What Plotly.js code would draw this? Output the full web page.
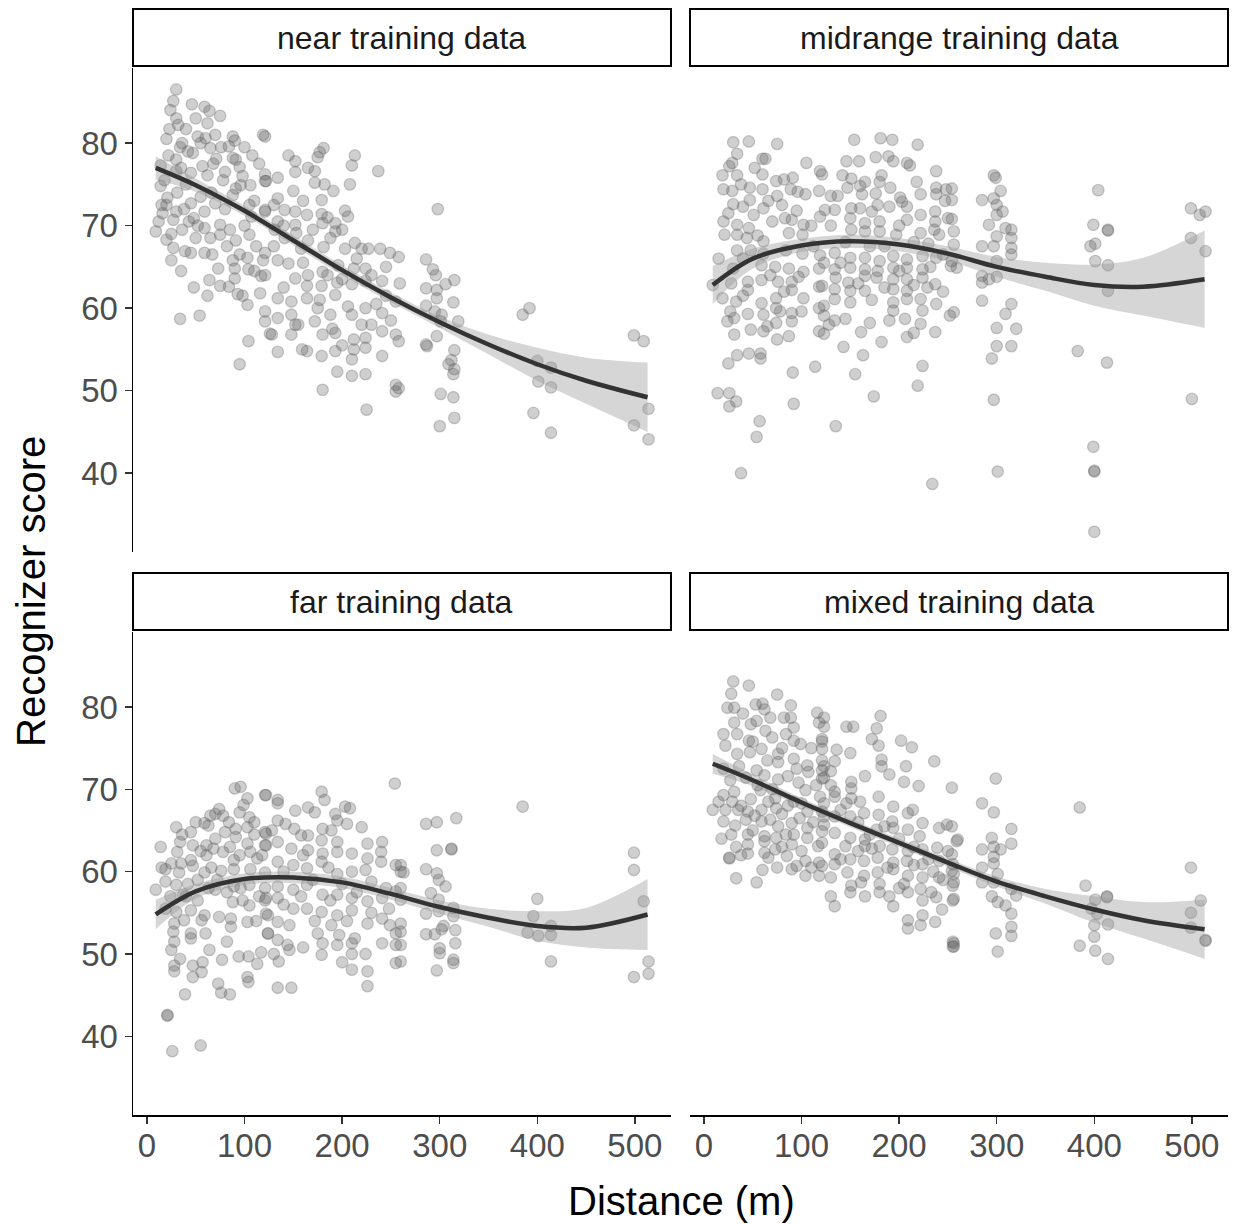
<!DOCTYPE html>
<html>
<head>
<meta charset="utf-8">
<script src="https://cdn.plot.ly/plotly-3.0.1.min.js"></script>
<style>html,body{margin:0;padding:0;background:#fff;}#chart{width:1235px;height:1224px;}</style>
</head>
<body>
<div id="chart"></div>
<script>
// ---------------- DATA ----------------
const panelTitles = ["near training data", "midrange training data", "far training data", "mixed training data"];
const xTickVals = [0, 100, 200, 300, 400, 500];
const yTickVals = [40, 50, 60, 70, 80];

// [distance (m), recognizer score]
const nearPoints = [
[30,86.5],[27,85.1],[24,84],[46,84.7],[59,84.4],[64,83.9],[75,83.3],[30,83],[32,82.2],[23,81.7],[62,82.4],[40,81.7],[119,81],[20,80.5],[52,80.8],[60,80.6],[88,80.8],[90,80.3],[34,79.5],[47,78.8],[65,79.4],[76,79.5],[84,79.6],[30,78],[71,78.1],[88,78.2],[91,78],[95,77.1],[57,77.2],[14,77.3],[30,76.6],[45,76.4],[62,76.1],[78,75.5],[121,75.4],[121,76.2],[14,74.8],[21,73.4],[31,74],[88,73.7],[96,74.9],[106,74.9],[91,74.5],[70,72.7],[59,71.7],[105,72.5],[45,72.7],[30,71.7],[121,71.7],[9,69.3],[27,70.7],[43,70.5],[48,70.9],[59,69.7],[75,70.1],[75,68.9],[91,68.2],[105,68.9],[107,71.1],[20,68.3],[27,67.3],[39,66.9],[45,66.7],[59,66.7],[67,66.5],[25,65.8],[88,65.8],[103,66.1],[119,65.8],[73,64.8],[90,64.8],[104,64.7],[90,63.6],[64,63.4],[117,63.9],[75,62.7],[84,62.6],[62,61.5],[93,61.7],[98,61.5],[116,61.8],[103,60.4],[34,58.7],[54,59.1],[121,58.4],[126,56.9],[104,56],[95,53.2],
[12,70.5],[16,71.5],[20,72.5],[36,69.5],[50,68.5],[55,73.5],[40,75],[66,74],[80,72],[85,69.5],[100,70],[112,67.5],[110,73],[115,77.5],[100,79.5],[70,81],[50,83],[36,80],[18,75.5],
[22,78.5],[35,77],[42,79],[55,80],[68,77.5],[80,76.5],[98,76],[108,78.5],[15,72.5],[25,69],[38,72],[52,70],[65,68.5],[82,67.5],[95,66.5],[110,64.5],[35,64.5],[48,62.5],[130,72.5],[140,70],[160,73],[170,69.5],[185,71],[200,69.5],[215,66],[230,64],[245,61.5],[160,65.5],[175,60],[190,57.5],[200,63.5],[235,60.5],[250,58.5],[140,62.5],[155,58],[185,64],[130,67.5],[200,55.5],[220,58],[245,65],
[121,80.8],[145,78.5],[152,77.8],[181,79.4],[177,78.9],[175,78.3],[213,78.5],[210,77.3],[237,76.6],[165,77],[172,76.6],[152,76.5],[134,75.8],[122,75.4],[172,75.2],[182,75],[191,74.2],[208,75],[150,74.2],[134,73.3],[179,73.1],[121,71.9],[141,71.9],[152,71.7],[164,71.3],[179,71.4],[203,71.8],[206,71.1],[134,70.5],[152,70.1],[180,70.3],[193,70.3],[131,69.5],[141,68.5],[153,69.1],[165,68.2],[188,68.5],[193,69.3],[213,67.9],[227,67.2],[239,67.2],[249,66.7],[121,66.7],[134,65.8],[145,65.4],[158,67.2],[181,67.4],[203,67.2],[220,67.2],[196,65.2],[212,64.8],[224,64.8],[165,64],[180,64.4],[121,64],[152,63.6],[164,62.7],[179,62.7],[195,63.1],[210,62.9],[224,63.3],[241,63.3],[259,63],[134,61.2],[148,60.8],[164,61.2],[177,61],[193,61.6],[206,60.2],[224,60],[241,59.4],[255,60.8],[121,59.6],[148,59.2],[188,59.2],[210,59.2],[134,58.8],[152,58],[172,58.4],[230,58],[241,57.2],[255,56.8],[128,56.8],[148,56.8],[180,56.8],[193,57],[212,56.2],[224,56.4],[159,55],[164,54.8],[193,54.8],[212,55],[224,55.2],[241,54.2],[134,54.7],[179,54.2],[210,53.8],[195,52.3],[210,51.8],[224,52],[180,50.1],[255,50.7],[255,49.9],[225,47.7],
[298,72],[286,65.9],[293,64.7],[296,64],[306,62.9],[315,63.4],[286,62.4],[297,62.2],[297,61.2],[286,60.3],[314,60.7],[295,59.6],[302,59.2],[319,58.4],[301,58.4],[297,56.6],[286,55.6],[287,55.4],[315,54.9],[312,53.7],[309,53.2],[315,52.6],[314,52],[301,49.6],[314,49.2],[315,46.7],[300,45.7],[392,60],[385,59.2],[400,53.6],[414,52.8],[401,51.1],[414,50.4],[396,47.3],[414,44.9],[499,56.7],[509,56],[514,47.8],[499,45.8],[514,44.1],[258,66.2],[258,56],[258,50.3]
];

const midPoints = [
[30,80.1],[46,80.2],[75,79.9],[34,78.7],[29,77.6],[26,77.2],[60,78.1],[63,78.1],[105,77.6],[119,76.6],[19,76.1],[34,76.1],[60,76.2],[74,75.4],[82,75.6],[91,75.8],[20,74.4],[29,74.2],[47,74.6],[60,74.4],[75,73.6],[89,74.4],[96,74.1],[104,73.8],[118,74.2],[30,72.6],[40,72.3],[47,73.1],[61,72.1],[51,71.3],[70,70.5],[83,70.9],[90,70.7],[102,70.1],[119,71.1],[20,70.5],[34,70.1],[46,69.7],[21,68.9],[34,68.9],[44,68.5],[61,68.1],[87,69.1],[101,68.9],[34,67],[48,67],[61,66.6],[84,67],[101,66.6],[119,66.4],[30,64.8],[59,65.2],[73,65],[87,64.8],[102,64.4],[118,64.8],[9,62.8],[45,63.2],[59,63.4],[76,63.2],[90,63.2],[45,62.2],[90,62.2],[118,62.6],[19,61.2],[33,60.8],[59,60.6],[74,61.2],[102,61.2],[74,60],[27,59.6],[45,59.3],[61,59.2],[78,59.6],[90,59.4],[118,60],[31,58.8],[24,58.4],[74,58.2],[90,58.4],[31,56.8],[48,57.4],[61,57.2],[75,56.2],[87,56.6],[118,57.2],[34,54.3],[46,54.5],[58,54.5],[58,53.9],[25,53.3],[91,52.2],[114,52.9],[14,49.7],[26,49.7],[33,48.7],[26,48.1],[92,48.4],[57,46.3],[54,44.4],[38,40],
[25,71.5],[38,75],[52,77],[66,73],[80,72.5],[95,71.8],[110,70],[15,66],[28,63],[40,66],[55,68.8],[68,64],[82,62],[97,63.8],[112,67.5],[40,61.5],[65,57.8],[100,59.6],[130,70],[145,68],[160,74.8],[170,67.5],[185,67.5],[200,70],[215,68],[230,67.8],[245,66.5],[140,65.5],[158,63],[172,61],[185,62.5],[200,64.5],[215,62.8],[232,65],[245,62],[170,58.2],[190,58.5],[128,58],[215,57],
[154,80.4],[181,80.6],[193,80.4],[219,79.8],[146,77.8],[159,77.8],[176,78.3],[189,78.4],[194,77.8],[208,77.6],[211,77.3],[238,76.6],[142,76.1],[151,75.7],[165,75.3],[182,76.1],[180,75.3],[218,75.3],[121,76.2],[130,73.6],[137,73.6],[147,74.6],[162,73.8],[176,73.9],[191,74.6],[201,73.4],[222,73.8],[238,74.6],[248,74.4],[238,73.8],[247,73],[124,71.9],[134,71.9],[151,72.1],[160,72.1],[172,71.7],[178,72.5],[190,72.3],[203,72.9],[208,72.3],[222,71.3],[237,71.7],[150,70.9],[165,70.3],[180,70.5],[208,70.7],[237,70.5],[250,70.9],[151,69.5],[165,69.3],[180,69.3],[197,68.9],[222,69.1],[236,69.5],[241,68.9],[134,66.7],[150,66.1],[165,66.1],[180,65.7],[194,66.3],[208,65.9],[224,66.3],[238,66.1],[253,65.1],[123,65.5],[134,64.7],[150,64.9],[165,64.7],[178,64.5],[194,64.9],[208,64.9],[224,64.7],[135,63.7],[148,63.1],[165,63.9],[177,63.7],[194,63.5],[208,63.5],[224,63.7],[237,62.9],[121,62.7],[134,62.3],[150,62.1],[165,62.1],[194,62.3],[208,62.1],[229,62.5],[134,61.1],[150,60.7],[194,60.7],[208,61.1],[222,61.1],[238,60.5],[123,60.3],[194,59.7],[206,58.7],[224,59.7],[252,59.1],[123,59.1],[134,58.5],[145,58.7],[208,56.5],[222,58.1],[237,57.1],[123,56.9],[161,57.1],[182,55.9],[143,55.3],[163,54.3],[155,52],[224,53],[219,50.6],[174,49.3],[135,45.7],[234,38.7],
[254,74.5],[254,73.1],[254,70.8],[256,69.3],[256,67.7],[254,65.7],[259,64.9],[256,59.5],[297,76.1],[299,75.8],[304,74.2],[285,73.1],[297,73.3],[300,72.5],[306,71.7],[300,71.3],[292,70.1],[309,69.7],[315,69.5],[300,68.7],[315,68.5],[285,67.5],[297,67.5],[315,67.3],[315,66.5],[300,65.7],[285,63.9],[285,63.1],[292,63.5],[300,63.8],[285,60.9],[315,60.5],[309,59.3],[300,57.6],[320,57.5],[300,55.4],[315,55.4],[295,53.9],[297,48.9],[301,40.2],[404,74.3],[399,70.1],[414,69.4],[414,69.5],[396,67.5],[401,67.8],[401,65.7],[414,65.2],[414,62.1],[383,54.8],[413,53.4],[399,43.2],[400,40.2],[400,40.3],[400,32.9],[499,72.1],[508,71.3],[514,71.7],[499,68.5],[514,66.9],[500,49]
];

const farPoints = [
[90,70.1],[96,70.3],[103,68.9],[99,68.1],[121,69.3],[74,67.6],[70,67],[78,66.8],[105,66.6],[59,65.9],[63,65.6],[84,66],[91,65.2],[103,65.4],[121,64.8],[30,65.4],[45,64.8],[14,63],[34,63.6],[47,63.2],[61,63.2],[70,64],[78,62.4],[91,64.2],[103,63.4],[121,63.2],[31,62.4],[45,61.4],[61,62],[89,61.4],[106,62.4],[113,61.6],[19,60.3],[33,59.9],[47,60.7],[59,59.9],[66,60.5],[76,60.1],[89,60.3],[106,60.3],[121,59.9],[9,57.8],[19,58.8],[30,58.4],[37,57.2],[63,58],[70,57.8],[89,58.2],[105,58.4],[121,58],[19,55.5],[30,55.1],[45,55.3],[59,54.7],[74,54.5],[88,56.3],[98,56.5],[105,55.9],[121,56.5],[122,54.9],[28,53.7],[38,54.1],[56,54.1],[86,54.3],[103,53.9],[86,53.3],[124,52.5],[27,52.7],[45,52.5],[28,51.5],[45,51.9],[64,50.5],[34,49.4],[77,49.3],[94,49.7],[104,49.7],[117,50.2],[28,48.6],[57,49],[47,48.6],[113,48.8],[28,47.9],[47,47.2],[56,47.8],[73,46.4],[103,47.2],[104,46.6],[39,45.1],[76,45.3],[85,45.1],[21,42.6],[21,42.5],[26,38.2],[55,38.9],
[25,61],[40,57],[52,59],[68,62.8],[82,57.5],[95,62],[110,64.5],[115,57],[50,66],[85,63],
[15,60.5],[24,57],[35,61],[42,58.5],[55,62.5],[65,66.8],[80,64.8],[95,67.2],[110,66],[118,62],[36,64.5],[52,56.5],[72,59],[96,58],[112,54],[25,50.5],[60,52.5],[82,51.5],[128,65],[140,60],[160,62],[170,59],[186,60.5],[200,58.5],[215,57.5],[230,58.8],[245,58],[140,56],[158,57],[172,54],[188,56.5],[205,54],[230,55],[248,55.5],[130,50],[160,50.8],[200,49],
[254,70.7],[179,69.7],[182,68.7],[122,69.3],[134,68.7],[134,68.3],[152,67.4],[165,67.8],[172,67.2],[193,67],[203,67.9],[208,67.7],[195,66.2],[205,65.8],[220,65.4],[134,66.2],[142,65.8],[151,65.2],[158,64.4],[165,64.4],[180,65.2],[189,65],[122,64.6],[179,63.8],[195,63.6],[226,63.4],[241,63.6],[240,62.4],[122,63.2],[134,63.6],[148,62.8],[165,62.6],[180,62.2],[195,62.4],[210,62.2],[226,61.6],[240,61.2],[255,60.8],[260,60],[134,61.2],[150,60.8],[164,60.4],[179,61.2],[195,59.7],[210,60],[224,60.2],[134,58.2],[150,57.8],[164,58.4],[180,57.2],[195,57.2],[210,56.8],[226,56.4],[241,56.8],[255,57.6],[122,56.8],[134,56.8],[150,55.5],[164,55.5],[179,55.1],[195,54.7],[210,55.3],[124,54.7],[134,53.9],[146,53.5],[189,53.5],[226,53.7],[241,54.3],[249,53.5],[255,52.5],[124,52.5],[175,52.5],[197,52.3],[213,51.9],[134,51.7],[144,51.1],[180,51.3],[195,51.1],[210,51.3],[241,51.3],[255,51.1],[146,50.5],[179,49.9],[210,50],[224,50],[135,49.1],[255,48.9],[210,48.1],[226,47.9],[226,46.1],[134,45.9],[148,45.9],
[385,67.9],[286,65.8],[297,66],[317,66.5],[297,62.6],[312,62.7],[312,62.8],[260,60.8],[263,59.9],[286,60.3],[297,59.8],[299,59],[306,58.2],[260,58],[260,56.6],[291,57.4],[299,56.6],[286,54.9],[299,55.2],[314,55.6],[314,54.6],[304,53.4],[302,53],[260,53.7],[260,52.7],[286,52.4],[295,52.4],[316,52.9],[260,51.1],[300,50.7],[316,51.3],[300,50.1],[314,49.3],[314,48.9],[260,49.1],[297,48],[400,56.7],[396,54.6],[390,52.6],[401,52.2],[414,53.4],[414,52.3],[414,49.1],[499,62.3],[499,60.2],[509,56.4],[514,49.1],[499,47.2],[514,47.6]
];

const mixPoints = [
[30,83.1],[46,82.6],[28,81.6],[75,81.5],[24,79.9],[31,79.9],[60,80.4],[62,79.7],[53,80.3],[40,79.2],[89,80.2],[116,79.3],[118,78.1],[31,78.1],[48,77.9],[54,78.3],[68,78.7],[82,78.7],[89,78.7],[20,76.7],[34,76.7],[46,75.9],[63,77.1],[70,76.3],[84,76.7],[92,77.5],[92,75.9],[99,75.5],[121,76.1],[121,74.9],[22,75.3],[34,74.3],[47,74.5],[59,74.9],[76,74.3],[92,73.7],[76,73.3],[106,72.9],[121,73.5],[121,72.3],[107,72.1],[54,72.3],[62,71.7],[27,71.1],[43,71.4],[76,71.2],[86,71.6],[121,71.3],[104,69.9],[20,69.3],[31,69.7],[58,69.9],[73,68.9],[92,68.5],[119,69.1],[9,67.5],[22,67.5],[29,68.5],[35,67.5],[45,67.3],[59,67.5],[74,67.7],[106,67.3],[121,67.3],[20,66.1],[32,65.6],[43,66.3],[59,66.1],[68,66.3],[76,65.5],[90,65.9],[106,65.3],[123,65.7],[45,64.5],[62,64.3],[74,64.1],[90,63.3],[106,64.1],[117,63.1],[45,63.3],[62,63.7],[92,64.5],[45,62.2],[62,62.3],[73,62.7],[85,61.9],[26,61.7],[26,61.6],[66,61.7],[104,61.3],[118,61.1],[75,60.5],[90,60.3],[95,60.7],[104,59.5],[118,59.5],[33,59.2],[54,58.7],
[15,68.5],[38,68],[52,66.8],[66,68.5],[80,67],[98,66.5],[112,66],[28,64.5],[50,65],[84,64.5],[100,62.5],[110,60.5],[38,62],[55,70.5],[97,70.8],
[20,72.5],[36,72.8],[50,75.8],[65,73.5],[80,75],[95,72.5],[110,75],[18,64],[33,63],[48,68.8],[70,70],[86,68],[100,68.3],[115,70.5],[60,60.2],[80,63],[130,70.5],[140,67.5],[158,66],[170,64.5],[185,65.5],[200,64],[215,63],[230,61.5],[245,59],[140,61.5],[158,62.5],[172,62.8],[188,60.5],[200,58],[215,60.8],[235,60],[130,57],[165,57],[190,57],[250,62.5],
[181,78.9],[177,77.4],[146,77.6],[153,77.6],[172,76.1],[179,75.3],[202,75.9],[213,75.1],[123,78.7],[123,77.6],[121,75.8],[136,74.8],[150,74.4],[236,73.4],[182,73.6],[182,72.8],[207,72.8],[190,71.8],[134,73.4],[123,72.8],[130,72.2],[165,71.6],[123,71.4],[151,70.9],[205,70.9],[220,70.4],[254,70.2],[151,70.1],[134,69.7],[151,68.9],[134,69.1],[123,68.3],[146,68.3],[160,68.5],[179,69.1],[194,67.9],[214,67.5],[209,67.1],[123,66.7],[134,66.7],[150,66.7],[164,67.1],[179,66.9],[193,66.1],[224,65.9],[241,65.3],[249,65.7],[260,63.9],[121,64.9],[134,64.7],[150,64.1],[165,63.9],[177,65.1],[194,65.3],[209,65.1],[221,64.3],[239,62.9],[121,63.5],[145,63.1],[165,63.1],[180,63.1],[193,62.7],[209,62.5],[224,62.7],[134,62.1],[150,61.5],[164,61.3],[178,61.7],[194,61.1],[208,61.3],[224,60.9],[241,61.3],[255,60.9],[121,60.7],[134,60.9],[147,59.9],[164,59.5],[178,59.9],[194,60.3],[209,59.5],[224,59.3],[241,59.3],[256,59.7],[130,59.3],[151,58.3],[161,58.7],[180,58.5],[205,58.5],[222,57.9],[255,58.3],[150,57.5],[180,57.5],[209,57.5],[233,57.5],[238,56.9],[255,56.5],[224,56.5],[134,55.8],[194,55.8],[244,55.4],[209,54.1],[224,54.7],[237,53.9],[209,53.1],[222,53.5],[255,51.5],[255,50.9],
[299,71.3],[285,68.3],[297,67.2],[315,65.2],[315,63.4],[295,64.1],[259,63.7],[254,65.5],[285,62.7],[297,63],[304,62.7],[297,61.8],[297,61],[254,62.1],[254,60.1],[285,60.5],[285,58.7],[297,58.7],[301,59.7],[315,57.9],[320,57.1],[295,57],[301,56.3],[309,55.9],[315,54.9],[256,58.7],[256,56.7],[315,53.3],[315,52.2],[299,52.5],[301,50.3],[256,51.3],[256,50.9],[385,67.8],[391,58.3],[401,56.6],[413,56.9],[413,57],[397,55.5],[403,54.9],[400,53.5],[414,53.6],[400,52.1],[385,51],[401,50.4],[414,49.4],[499,60.5],[509,56.5],[499,55],[499,53.2],[514,51.6],[514,51.7]
];

// smoother (fit line with confidence band)
const fitX    = [9, 50, 100, 150, 200, 250, 300, 350, 400, 450, 513];
const nearFit = [77.0, 74.9, 71.8, 68.2, 64.6, 61.3, 58.3, 55.6, 53.2, 51.2, 49.2];
const nearLo  = [75.6, 74.1, 71.2, 67.6, 64.0, 60.7, 57.6, 54.4, 51.2, 48.4, 45.0];
const nearHi  = [78.4, 75.7, 72.4, 68.8, 65.2, 61.9, 59.0, 56.8, 55.2, 54.0, 53.4];
const midFit  = [62.8, 66.0, 67.6, 68.1, 67.7, 66.6, 65.0, 63.8, 62.8, 62.6, 63.5];
const midLo   = [60.5, 64.8, 66.8, 67.3, 66.9, 65.7, 63.8, 62.1, 60.3, 59.1, 57.6];
const midHi   = [65.1, 67.2, 68.4, 68.9, 68.5, 67.5, 66.2, 65.5, 65.3, 66.1, 69.4];
const farFit  = [54.8, 57.6, 59.1, 59.3, 58.7, 57.3, 55.7, 54.4, 53.4, 53.2, 54.8];
const farLo   = [53.0, 56.7, 58.4, 58.6, 58.0, 56.6, 54.9, 53.3, 51.6, 50.8, 50.5];
const farHi   = [56.6, 58.5, 59.8, 60.0, 59.4, 58.0, 56.5, 55.5, 55.2, 55.6, 59.1];
const mixFit  = [73.1, 71.1, 68.4, 65.9, 63.5, 61.1, 58.8, 57.0, 55.4, 54.1, 53.0];
const mixLo   = [71.9, 70.4, 67.9, 65.4, 63.0, 60.6, 58.2, 56.1, 53.8, 51.9, 49.4];
const mixHi   = [74.3, 71.8, 68.9, 66.4, 64.0, 61.6, 59.4, 57.9, 57.0, 56.3, 56.6];

// ---------------- BUILD ----------------
const W = 1235, H = 1224;
const px = v => v / W;
const py = v => 1 - v / H;
const FONT = "Liberation Sans, Arial, Helvetica, sans-serif";

const panels = [
  {pts: nearPoints, fit: nearFit, lo: nearLo, hi: nearHi, xa: 'x',  ya: 'y'},
  {pts: midPoints,  fit: midFit,  lo: midLo,  hi: midHi,  xa: 'x2', ya: 'y2'},
  {pts: farPoints,  fit: farFit,  lo: farLo,  hi: farHi,  xa: 'x3', ya: 'y3'},
  {pts: mixPoints,  fit: mixFit,  lo: mixLo,  hi: mixHi,  xa: 'x4', ya: 'y4'}
];

const traces = [];
panels.forEach(p => {
  traces.push({
    type: 'scatter', mode: 'markers', xaxis: p.xa, yaxis: p.ya,
    x: p.pts.map(d => d[0]), y: p.pts.map(d => d[1]),
    marker: {size: 11.5, color: 'rgba(95,95,95,0.3)', line: {color: 'rgba(95,95,95,0.3)', width: 1.3}},
    hoverinfo: 'skip', showlegend: false
  });
  traces.push({
    type: 'scatter', mode: 'lines', xaxis: p.xa, yaxis: p.ya,
    x: fitX, y: p.lo, line: {width: 0, shape: 'spline', smoothing: 1}, hoverinfo: 'skip', showlegend: false
  });
  traces.push({
    type: 'scatter', mode: 'lines', xaxis: p.xa, yaxis: p.ya,
    x: fitX, y: p.hi, line: {width: 0, shape: 'spline', smoothing: 1}, fill: 'tonexty',
    fillcolor: 'rgba(153,153,153,0.4)', hoverinfo: 'skip', showlegend: false
  });
  traces.push({
    type: 'scatter', mode: 'lines', xaxis: p.xa, yaxis: p.ya,
    x: fitX, y: p.fit, line: {color: '#333333', width: 4.5, shape: 'spline', smoothing: 1},
    hoverinfo: 'skip', showlegend: false
  });
});

const xr = [-14.3, 537];
const yr = [30.45, 89.1];
const leftDom = [px(133), px(671)], rightDom = [px(690), px(1228)];
const topDom = [py(552), py(68)], botDom = [py(1115), py(632)];
const tickFont = {family: FONT, size: 33, color: '#4d4d4d'};

function xax(dom, anchor, show) {
  return {domain: dom, anchor: anchor, range: xr, showgrid: false, zeroline: false,
    showline: show, linecolor: '#000', linewidth: 1.5,
    ticks: show ? 'outside' : '', ticklen: 7, tickwidth: 1.5, tickcolor: '#333',
    ticklabelstandoff: -6,
    tickvals: xTickVals, showticklabels: show, tickfont: tickFont};
}
function yax(dom, anchor, show) {
  return {domain: dom, anchor: anchor, range: yr, showgrid: false, zeroline: false,
    showline: show, linecolor: '#000', linewidth: 1.5,
    ticks: show ? 'outside' : '', ticklen: 7, tickwidth: 1.5, tickcolor: '#333',
    tickvals: yTickVals, showticklabels: show, tickfont: tickFont};
}

const strips = [
  [133, 671, 9, 66], [690, 1228, 9, 66], [133, 671, 573, 630], [690, 1228, 573, 630]
];
const shapes = strips.map(s => ({
  type: 'rect', xref: 'paper', yref: 'paper',
  x0: px(s[0]), x1: px(s[1]), y0: py(s[3]), y1: py(s[2]),
  line: {color: '#000', width: 2}, fillcolor: '#ffffff'
}));
const annotations = strips.map((s, i) => ({
  xref: 'paper', yref: 'paper', x: px((s[0] + s[1]) / 2), y: py((s[2] + s[3]) / 2),
  text: panelTitles[i], showarrow: false, xanchor: 'center', yanchor: 'middle',
  font: {family: FONT, size: 32, color: '#1a1a1a'}
}));
annotations.push({
  xref: 'paper', yref: 'paper', x: px(681), y: py(1201), text: 'Distance (m)',
  showarrow: false, xanchor: 'center', yanchor: 'middle',
  font: {family: FONT, size: 40, color: '#000'}
});
annotations.push({
  xref: 'paper', yref: 'paper', x: px(31), y: py(592), text: 'Recognizer score',
  showarrow: false, xanchor: 'center', yanchor: 'middle', textangle: -90,
  font: {family: FONT, size: 40, color: '#000'}
});

const layout = {
  width: W, height: H, margin: {l: 0, r: 0, t: 0, b: 0},
  paper_bgcolor: '#fff', plot_bgcolor: 'rgba(0,0,0,0)', showlegend: false,
  xaxis:  xax(leftDom, 'y', false),
  yaxis:  yax(topDom, 'x', true),
  xaxis2: xax(rightDom, 'y2', false),
  yaxis2: yax(topDom, 'x2', false),
  xaxis3: xax(leftDom, 'y3', true),
  yaxis3: yax(botDom, 'x3', true),
  xaxis4: xax(rightDom, 'y4', true),
  yaxis4: yax(botDom, 'x4', false),
  shapes: shapes, annotations: annotations
};

Plotly.newPlot('chart', traces, layout, {staticPlot: true, displayModeBar: false});
</script>
</body>
</html>
